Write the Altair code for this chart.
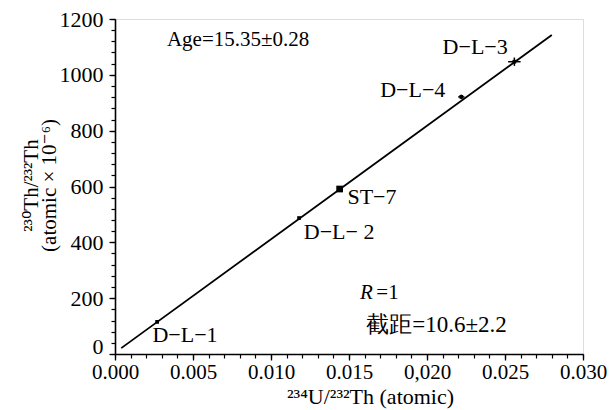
import json
import altair as alt
import pandas as pd

# ---- data ----
samples = ["D−L−1", "D−L−2", "ST−7", "D−L−4", "D−L−3"]
u_th = [0.0027, 0.0118, 0.0144, 0.0222, 0.0256]      # 234U/232Th
th_th = [115, 487, 591, 921, 1047]                    # 230Th/232Th (x1e-6)
u_err = [0.0, 0.0, 0.0, 0.0002, 0.0004]
th_err = [0, 0, 0, 8, 15]

label_text = ["D−L−1", "D−L− 2", "ST−7", "D−L−4", "D−L−3"]
label_x = [0.0024, 0.0121, 0.0149, 0.0170, 0.0210]
label_y = [68, 437, 563, 946, 1100]

fit_x = [0.0004, 0.0280]
fit_y = [21, 1143]

note_text = ["Age=15.35±0.28", "=1", "截距=10.6±2.2"]
note_size = [21, 21, 23]
note_x = [0.00333, 0.01675, 0.0161]
note_y = [1125, 219, 104]

x_major = [0.000, 0.005, 0.010, 0.015, 0.020, 0.025, 0.030]
x_tick_labels = ["0.000", "0.005", "0.010", "0.015", "0,020", "0.025", "0.030"]
x_minor = [i / 1000 for i in range(31)]
y_major = [0, 200, 400, 600, 800, 1000, 1200]
y_minor = list(range(0, 1201, 40))

FONT = "Liberation Serif"
TFONT = "Liberation Serif, DejaVu Sans"

pts = pd.DataFrame({"name": samples, "x": u_th, "y": th_th,
                    "xe": u_err, "ye": th_err})
pts["x1"] = pts.x - pts.xe
pts["x2"] = pts.x + pts.xe
pts["y1"] = pts.y - pts.ye
pts["y2"] = pts.y + pts.ye
err = pts[pts.xe > 0]

labels = pd.DataFrame({"t": label_text, "x": label_x, "y": label_y})
fit = pd.DataFrame({"x": fit_x, "y": fit_y})
notes = pd.DataFrame({"t": note_text, "x": note_x, "y": note_y, "s": note_size})
rnote = pd.DataFrame({"t": ["R"], "x": [0.0157], "y": [219]})

xlab_expr = json.dumps(x_tick_labels) + "[round(datum.value*200)]"

xscale = alt.Scale(domain=[0, 0.030], nice=False, zero=False)
yscale = alt.Scale(domain=[0, 1200], nice=False, zero=False)

xaxis = alt.Axis(
    orient="bottom", values=x_major, labelExpr=xlab_expr, labelOverlap=False,
    tickSize=6, labelPadding=1, grid=False, domainColor="black", domainWidth=1.6,
    tickColor="black", tickWidth=1.3, labelFont=FONT, labelFontSize=21,
    labelColor="black", labelFlush=False,
    title="²³⁴U/²³²Th (atomic)", titleFont=TFONT, titleFontSize=22,
    titleFontWeight="normal", titleColor="black",
    titleX=255, titleY=42, titleAlign="center", titleBaseline="middle",
)
yaxis = alt.Axis(
    orient="left", values=y_major, format="d", labelOverlap=False,
    tickSize=6, labelPadding=6, grid=False, domainColor="black", domainWidth=1.6,
    tickColor="black", tickWidth=1.3, labelFont=FONT, labelFontSize=22,
    labelColor="black", labelFlush=False,
    labelOffset={"condition": {"test": "datum.value === 0", "value": -8}, "value": 0},
    title=["²³⁰Th/²³²Th", "(atomic × 10⁻⁶)"], titleFont=TFONT, titleFontSize=21,
    titleFontWeight="normal", titleColor="black", titleLineHeight=18,
    titleAngle=270, titleX=-74, titleY=166, titleAlign="center",
    titleBaseline="bottom",
)
xminor = alt.Axis(orient="bottom", values=x_minor, labels=False, domain=False,
                  grid=False, tickSize=4, tickColor="black", tickWidth=1.2,
                  title=None)
yminor = alt.Axis(orient="left", values=y_minor, labels=False, domain=False,
                  grid=False, tickSize=4, tickColor="black", tickWidth=1.2,
                  title=None)

line = alt.Chart(fit).mark_line(color="black", strokeWidth=1.8).encode(
    x=alt.X("x:Q", scale=xscale, axis=xaxis),
    y=alt.Y("y:Q", scale=yscale, axis=yaxis),
)
minor = alt.Chart(fit).mark_line(opacity=0).encode(
    x=alt.X("x:Q", scale=xscale, axis=xminor),
    y=alt.Y("y:Q", scale=yscale, axis=yminor),
)
errx = alt.Chart(err).mark_rule(color="black", strokeWidth=1.5).encode(
    x=alt.X("x1:Q", axis=None), x2="x2:Q", y=alt.Y("y:Q", axis=None))
erry = alt.Chart(err).mark_rule(color="black", strokeWidth=1.5).encode(
    x=alt.X("x:Q", axis=None), y=alt.Y("y1:Q", axis=None), y2="y2:Q")
points = alt.Chart(pts).mark_square(color="black", opacity=1).encode(
    x=alt.X("x:Q", axis=None), y=alt.Y("y:Q", axis=None),
    size=alt.condition(alt.datum.name == "ST−7", alt.value(45), alt.value(14)),
)
lab = alt.Chart(labels).mark_text(
    font=FONT, fontSize=22, align="left", baseline="middle", color="black"
).encode(x=alt.X("x:Q", axis=None), y=alt.Y("y:Q", axis=None), text="t:N")
note = alt.Chart(notes).mark_text(
    font=FONT, align="left", baseline="middle", color="black"
).encode(x=alt.X("x:Q", axis=None), y=alt.Y("y:Q", axis=None), text="t:N",
         size=alt.Size("s:Q", scale=None, legend=None))
rmark = alt.Chart(rnote).mark_text(
    font=FONT, fontSize=21, align="left", baseline="middle", color="black",
    fontStyle="italic"
).encode(x=alt.X("x:Q", axis=None), y=alt.Y("y:Q", axis=None), text="t:N")

chart = alt.layer(line, minor, errx, erry, points, lab, note, rmark).resolve_axis(
    x="independent", y="independent"
).properties(
    width=468, height=335,
    padding={"left": 107, "top": 11, "right": 25, "bottom": 56},
    autosize=alt.AutoSizeParams(type="none"),
).configure_view(stroke=None).configure(background="white")

chart.save("out.html", embed_options={"renderer": "svg", "actions": False})
